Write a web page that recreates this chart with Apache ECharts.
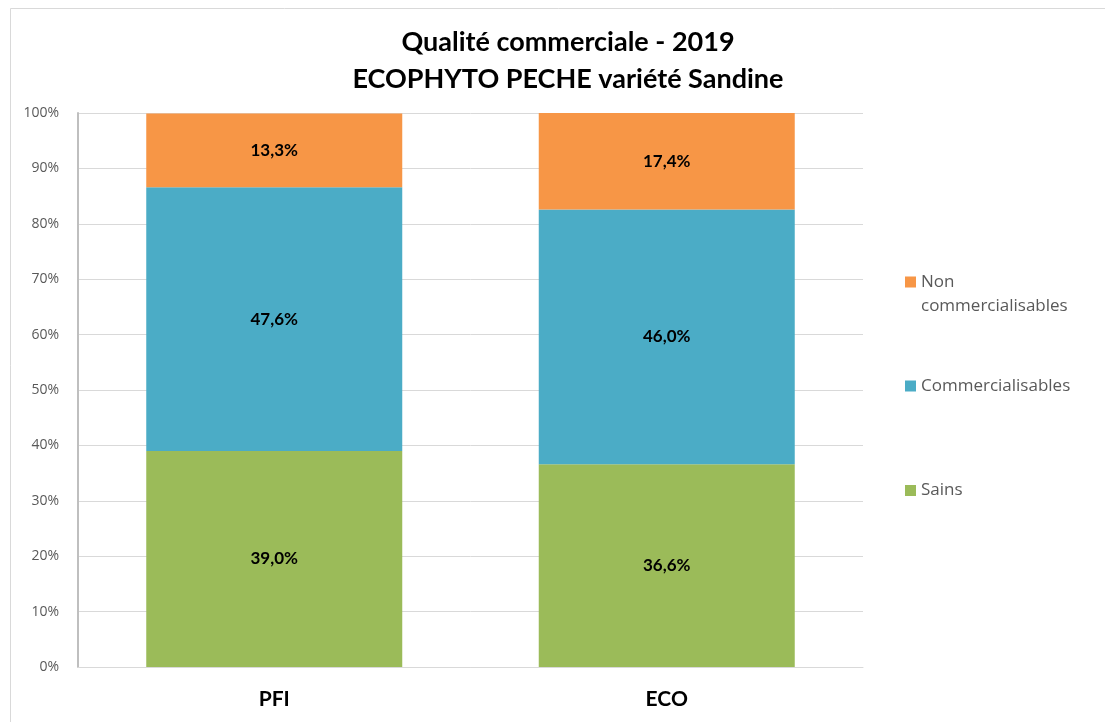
<!DOCTYPE html>
<html>
<head>
<meta charset="utf-8">
<script src="https://cdn.jsdelivr.net/npm/echarts@6/dist/echarts.min.js"></script>
<style>
  html, body { margin: 0; padding: 0; background: #fff; }
  #chart { width: 1105px; height: 722px; }
</style>
</head>
<body>
<div id="chart"></div>
<script>
// data
const categories = ['PFI', 'ECO'];
const sains = [39.0, 36.6];
const commercialisables = [47.6, 46.0];
const nonCommercialisables = [13.3, 17.4];
const yTicks = [0, 10, 20, 30, 40, 50, 60, 70, 80, 90, 100];

const BOLD_FONT = 'Lato, "Open Sans", sans-serif';
const FONT = '"Open Sans", Lato, sans-serif';
const GREY_TEXT = '#595959';

const chart = echarts.init(document.getElementById('chart'));

const fmtPct = v => v.toFixed(1).replace('.', ',') + '%';

const barLabel = {
  show: true,
  position: 'inside',
  color: '#000',
  fontFamily: BOLD_FONT,
  fontWeight: 'bold',
  fontSize: 17,
  formatter: p => fmtPct(p.value)
};

const legendBase = {
  orient: 'vertical',
  left: 900,
  itemWidth: 11,
  itemHeight: 11,
  icon: 'rect',
  textStyle: { color: GREY_TEXT, fontFamily: FONT, fontSize: 17, lineHeight: 24 }
};

const option = {
  backgroundColor: '#fff',
  animation: false,
  title: {
    text: 'Qualité commerciale - 2019\nECOPHYTO PECHE variété Sandine',
    left: 563,
    top: 19,
    textAlign: 'center',
    textStyle: {
      color: '#000',
      fontFamily: BOLD_FONT,
      fontWeight: 'bold',
      fontSize: 27,
      lineHeight: 37
    }
  },
  graphic: [{
    type: 'rect',
    shape: { x: 10.5, y: 8.5, width: 1120, height: 740 },
    style: { fill: 'none', stroke: '#d9d9d9', lineWidth: 1 },
    silent: true
  }],
  legend: [
    // two-line entry: icon box is taller so the square sits beside the first line
    Object.assign({}, legendBase, {
      top: 265,
      itemHeight: 35,
      icon: 'path://M0,0H11V11H0Z M0,35H11Z',
      data: ['Non commercialisables'],
      formatter: () => 'Non\ncommercialisables'
    }),
    Object.assign({}, legendBase, { top: 369, data: ['Commercialisables'] }),
    Object.assign({}, legendBase, { top: 473.5, data: ['Sains'] })
  ],
  grid: { left: 78, right: 242, top: 113, bottom: 55 },
  xAxis: {
    type: 'category',
    data: categories,
    axisTick: { show: false },
    axisLine: { lineStyle: { color: '#d9d9d9', width: 1 } },
    axisLabel: {
      color: '#000',
      fontFamily: BOLD_FONT,
      fontWeight: 'bold',
      fontSize: 21,
      margin: 22
    }
  },
  yAxis: {
    type: 'value',
    min: yTicks[0],
    max: yTicks[yTicks.length - 1],
    interval: 10,
    axisLine: { show: true, lineStyle: { color: '#bfbfbf', width: 2 } },
    axisTick: { show: false },
    splitLine: { lineStyle: { color: '#d9d9d9', width: 1 } },
    axisLabel: {
      color: GREY_TEXT,
      fontFamily: FONT,
      fontSize: 14,
      margin: 19,
      formatter: v => v + '%'
    }
  },
  series: [
    {
      name: 'Sains',
      type: 'bar',
      stack: 'total',
      barWidth: 256,
      data: sains,
      itemStyle: { color: '#9BBB59' },
      label: barLabel
    },
    {
      name: 'Commercialisables',
      type: 'bar',
      stack: 'total',
      barWidth: 256,
      data: commercialisables,
      itemStyle: { color: '#4BACC6' },
      label: barLabel
    },
    {
      name: 'Non commercialisables',
      type: 'bar',
      stack: 'total',
      barWidth: 256,
      data: nonCommercialisables,
      itemStyle: { color: '#F79646' },
      label: barLabel
    }
  ]
};

chart.setOption(option);
</script>
</body>
</html>
